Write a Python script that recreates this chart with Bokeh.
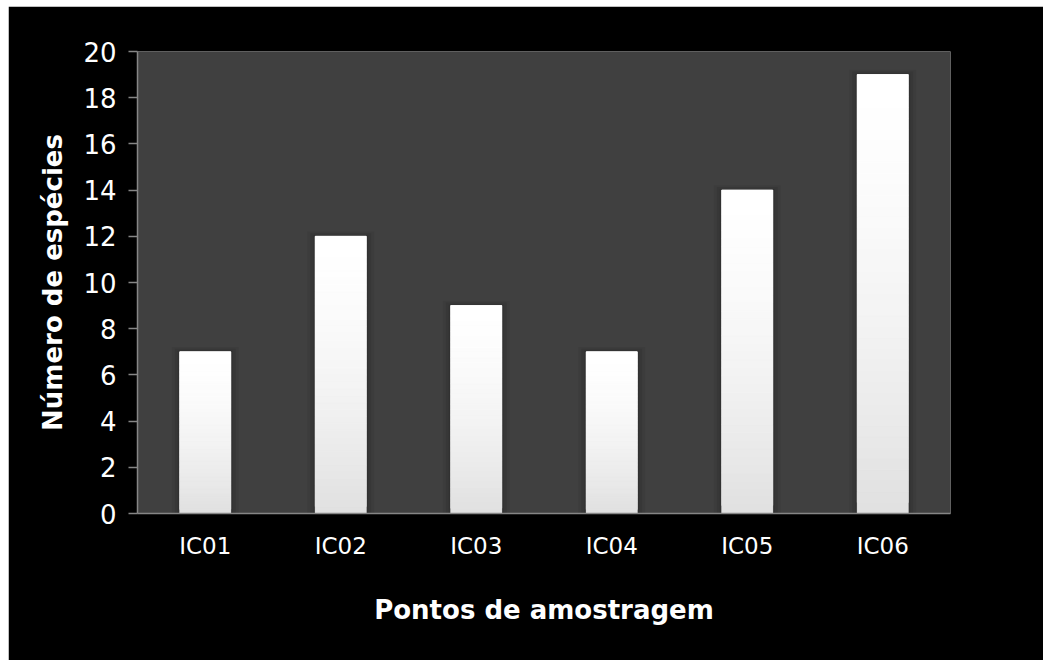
from bokeh.plotting import figure
from bokeh.models import ColumnDataSource, FixedTicker
from bokeh.embed import file_html
from bokeh.resources import INLINE

# ---- data ----
categories = ["IC01", "IC02", "IC03", "IC04", "IC05", "IC06"]
species = [7, 12, 9, 7, 14, 19]
y_ticks = [0, 2, 4, 6, 8, 10, 12, 14, 16, 18, 20]
x_title = "Pontos de amostragem"
y_title = "Número de espécies"

FONT = "DejaVu Sans"
BAR_W = 0.376

p = figure(x_range=categories, y_range=(0, 20), width=1035, height=654,
           output_backend="svg", toolbar_location=None,
           min_border_left=129, min_border_right=93, min_border_top=45,
           min_border_bottom=147, margin=(6, 0, 0, 8))
p.x_range.range_padding = 0
p.background_fill_color = "#404040"
p.border_fill_color = "#000000"
p.outline_line_color = None
p.grid.visible = False

# soft shadow around bars
for k, a in [(8, 0.06), (5, 0.08), (2, 0.10)]:
    p.vbar(x=categories, top=[v + k * 20 / 462 * 0.6 for v in species], bottom=0,
           width=BAR_W + k / 135.5 * 2, fill_color="black", fill_alpha=a, line_color=None)

# solid base bar under the gradient slices
p.vbar(x=categories, top=species, bottom=0, width=BAR_W, fill_color="#f2f2f2", line_color=None)

# gradient bars built as overlapping slices of each bar's height
N = 40
xs, bots, tops, cols = [], [], [], []
for c, v in zip(categories, species):
    for i in range(N):
        f = 1 - (i + 0.5) / N  # 0 at top, 1 at bottom
        g = int(round(255 - 31 * f ** 1.6))
        xs.append(c)
        bots.append(v * i / N)
        tops.append(min(v, v * (i + 2) / N))
        cols.append("#%02x%02x%02x" % (g, g, g))
src = ColumnDataSource(dict(x=xs, bottom=bots, top=tops, color=cols))
p.vbar(x="x", bottom="bottom", top="top", width=BAR_W, fill_color="color",
       line_color="color", line_width=0.6, source=src)

axis_col = "#868686"
# y axis
ya = p.yaxis[0]
ya.ticker = FixedTicker(ticks=y_ticks)
ya.axis_line_color = axis_col
ya.axis_line_width = 1.5
ya.major_tick_line_color = axis_col
ya.major_tick_line_width = 1.5
ya.major_tick_out = 9
ya.major_tick_in = 0
ya.minor_tick_line_color = None
ya.major_label_text_color = "white"
ya.major_label_text_font = FONT
ya.major_label_text_font_size = "26px"
ya.major_label_standoff = 12
ya.axis_label = y_title
ya.axis_label_text_color = "white"
ya.axis_label_text_font = FONT
ya.axis_label_text_font_style = "bold"
ya.axis_label_text_font_size = "26px"
ya.axis_label_standoff = 12

# x axis
xa = p.xaxis[0]
xa.axis_line_color = axis_col
xa.axis_line_width = 1.5
xa.major_tick_line_color = None
xa.major_tick_out = 0
xa.major_tick_in = 0
xa.minor_tick_line_color = None
xa.major_label_text_color = "white"
xa.major_label_text_font = FONT
xa.major_label_text_font_size = "23px"
xa.major_label_standoff = 19
xa.axis_label = x_title
xa.axis_label_text_color = "white"
xa.axis_label_text_font = FONT
xa.axis_label_text_font_style = "bold"
xa.axis_label_text_font_size = "26px"
xa.axis_label_standoff = 33

open("out.html", "w").write(file_html(p, INLINE))
